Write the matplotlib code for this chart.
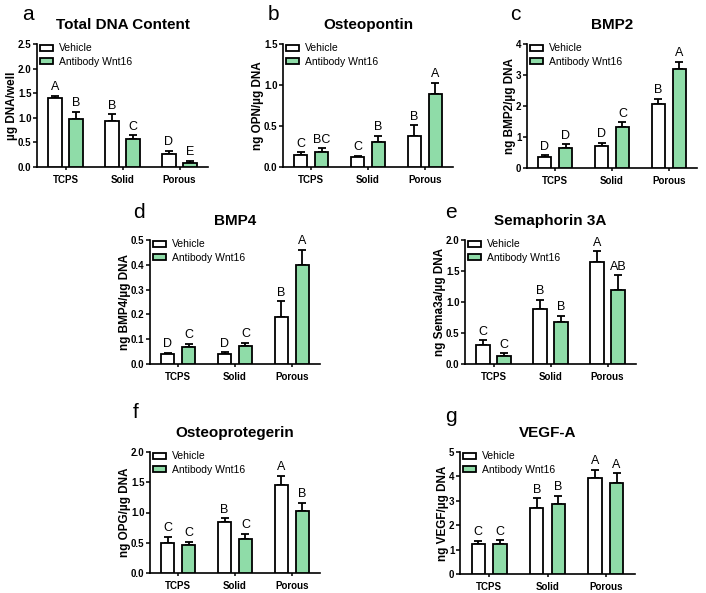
import matplotlib
matplotlib.use("Agg")
import matplotlib.pyplot as plt
import numpy as np
from matplotlib.patches import Patch

plt.rcParams['font.family'] = ['Liberation Sans', 'DejaVu Sans']

groups = ["TCPS", "Solid", "Porous"]
series_names = ["Vehicle", "Antibody Wnt16"]

# a: Total DNA Content
a_veh = [1.40, 0.94, 0.27]
a_veh_err = [0.05, 0.13, 0.06]
a_ab = [0.97, 0.57, 0.08]
a_ab_err = [0.15, 0.08, 0.05]
a_letters_veh = ["A", "B", "D"]
a_letters_ab = ["B", "C", "E"]

# b: Osteopontin
b_veh = [0.15, 0.12, 0.38]
b_veh_err = [0.03, 0.02, 0.13]
b_ab = [0.18, 0.30, 0.89]
b_ab_err = [0.05, 0.08, 0.14]
b_letters_veh = ["C", "C", "B"]
b_letters_ab = ["BC", "B", "A"]

# c: BMP2
c_veh = [0.37, 0.72, 2.05]
c_veh_err = [0.05, 0.10, 0.18]
c_ab = [0.65, 1.32, 3.18]
c_ab_err = [0.12, 0.16, 0.25]
c_letters_veh = ["D", "D", "B"]
c_letters_ab = ["D", "C", "A"]

# d: BMP4
d_veh = [0.040, 0.042, 0.19]
d_veh_err = [0.005, 0.006, 0.063]
d_ab = [0.070, 0.073, 0.40]
d_ab_err = [0.012, 0.012, 0.06]
d_letters_veh = ["D", "D", "B"]
d_letters_ab = ["C", "C", "A"]

# e: Semaphorin 3A
e_veh = [0.30, 0.88, 1.65]
e_veh_err = [0.08, 0.16, 0.17]
e_ab = [0.13, 0.68, 1.20]
e_ab_err = [0.04, 0.10, 0.23]
e_letters_veh = ["C", "B", "A"]
e_letters_ab = ["C", "B", "AB"]

# f: Osteoprotegerin
f_veh = [0.50, 0.85, 1.45]
f_veh_err = [0.10, 0.06, 0.16]
f_ab = [0.47, 0.56, 1.02]
f_ab_err = [0.05, 0.09, 0.14]
f_letters_veh = ["C", "B", "A"]
f_letters_ab = ["C", "C", "B"]

# g: VEGF-A
g_veh = [1.25, 2.70, 3.95]
g_veh_err = [0.12, 0.40, 0.33]
g_ab = [1.25, 2.85, 3.75]
g_ab_err = [0.13, 0.35, 0.38]
g_letters_veh = ["C", "B", "A"]
g_letters_ab = ["C", "B", "A"]

W, H = 706, 593
fig = plt.figure(figsize=(W / 100, H / 100), dpi=100)

green = "#8fdca8"

panels = [
    ("a", "Total DNA Content", "µg DNA/well", (a_veh, a_veh_err, a_ab, a_ab_err, a_letters_veh, a_letters_ab),
     (37, 208, 44, 167), 2.5, np.arange(0, 2.51, 0.5), "{:.1f}", (28, 15)),
    ("b", "Osteopontin", "ng OPN/µg DNA", (b_veh, b_veh_err, b_ab, b_ab_err, b_letters_veh, b_letters_ab),
     (283, 453, 44, 167), 1.5, np.arange(0, 1.51, 0.5), "{:.1f}", (273, 15)),
    ("c", "BMP2", "ng BMP2/µg DNA", (c_veh, c_veh_err, c_ab, c_ab_err, c_letters_veh, c_letters_ab),
     (527, 697, 44, 168), 4, np.arange(0, 4.01, 1), "{:.0f}", (515, 15)),
    ("d", "BMP4", "ng BMP4/µg DNA", (d_veh, d_veh_err, d_ab, d_ab_err, d_letters_veh, d_letters_ab),
     (150, 320, 240, 364), 0.5, np.arange(0, 0.51, 0.1), "{:.1f}", (139, 213)),
    ("e", "Semaphorin 3A", "ng Sema3a/µg DNA", (e_veh, e_veh_err, e_ab, e_ab_err, e_letters_veh, e_letters_ab),
     (465, 636, 240, 364), 2.0, np.arange(0, 2.01, 0.5), "{:.1f}", (451, 213)),
    ("f", "Osteoprotegerin", "ng OPG/µg DNA", (f_veh, f_veh_err, f_ab, f_ab_err, f_letters_veh, f_letters_ab),
     (150, 320, 452, 573), 2.0, np.arange(0, 2.01, 0.5), "{:.1f}", (136, 413)),
    ("g", "VEGF-A", "ng VEGF/µg DNA", (g_veh, g_veh_err, g_ab, g_ab_err, g_letters_veh, g_letters_ab),
     (460, 635, 452, 574), 5, np.arange(0, 5.01, 1), "{:.0f}", (451, 416)),
]

x = np.arange(len(groups))
bw = 0.23
off = 0.185

for letter, title, ylabel, data, (l, r, t, b), ymax, yticks, fmt, (lx, ly) in panels:
    veh, veh_err, ab, ab_err, lv, la = data
    ax = fig.add_axes([l / W, 1 - b / H, (r - l) / W, (b - t) / H])
    ax.bar(x - off, veh, bw, color="white", edgecolor="black", linewidth=1.3, zorder=3)
    ax.bar(x + off, ab, bw, color=green, edgecolor="black", linewidth=1.3, zorder=3)
    ax.errorbar(x - off, veh, yerr=[np.zeros(3), veh_err], fmt="none", ecolor="black",
                elinewidth=1.3, capsize=3, capthick=1.3, zorder=2)
    ax.errorbar(x + off, ab, yerr=[np.zeros(3), ab_err], fmt="none", ecolor="black",
                elinewidth=1.3, capsize=3, capthick=1.3, zorder=2)
    pad = ymax * 0.02
    for i in range(3):
        ax.text(x[i] - off, veh[i] + veh_err[i] + pad, lv[i], ha="center", va="bottom", fontsize=9)
        ax.text(x[i] + off, ab[i] + ab_err[i] + pad, la[i], ha="center", va="bottom", fontsize=9)
    ax.set_xlim(-0.5, 2.5)
    ax.set_ylim(0, ymax)
    ax.set_yticks(yticks)
    ax.set_yticklabels([fmt.format(v) for v in yticks], fontsize=7, fontweight="bold")
    ax.set_xticks(x)
    ax.set_xticklabels(groups, fontsize=7, fontweight="bold")
    ax.spines["top"].set_visible(False)
    ax.spines["right"].set_visible(False)
    ax.spines["left"].set_linewidth(1.2)
    ax.spines["bottom"].set_linewidth(1.2)
    ax.tick_params(axis="y", length=3, width=1.1, pad=1)
    ax.tick_params(axis="x", length=2.5, width=1.1, pad=3)
    ax.set_ylabel(ylabel, fontsize=8.5, fontweight="bold", labelpad=0)
    ax.set_title(title, fontsize=11, fontweight="bold", pad=11)
    handles = [Patch(facecolor="white", edgecolor="black", linewidth=1.3),
               Patch(facecolor=green, edgecolor="black", linewidth=1.3)]
    ax.legend(handles, series_names, loc="upper left", bbox_to_anchor=(0.015, 1.005),
              frameon=False, fontsize=7.5, handlelength=1.3, handleheight=0.55,
              handletextpad=0.6, labelspacing=0.35, borderpad=0, borderaxespad=0)
    fig.text(lx / W, 1 - ly / H, letter, fontsize=15, ha="center", va="center")

fig.savefig("out.png", dpi=100)
